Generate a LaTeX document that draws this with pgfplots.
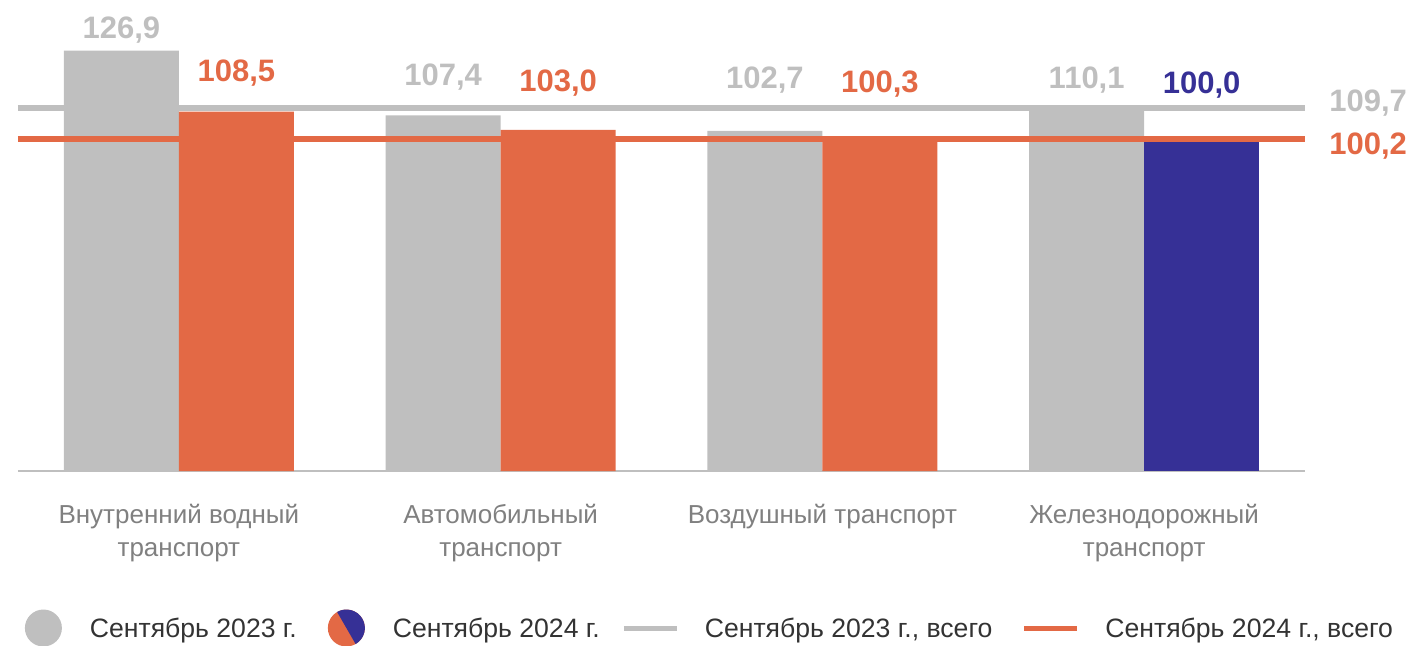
\documentclass[border=0pt]{standalone}
\usepackage{fontspec}
\setmainfont{Liberation Sans}
\usepackage{pgfplots}
\pgfplotsset{compat=1.18}
\definecolor{cgray}{HTML}{BFBFBF}
\definecolor{corange}{HTML}{E36945}
\definecolor{cblue}{HTML}{363096}
\definecolor{ctick}{HTML}{808080}
\definecolor{ctext}{HTML}{333333}
\begin{document}
\begin{tikzpicture}
\path[use as bounding box] (0,0) rectangle (705.5pt,322.5pt);
\begin{axis}[
  at={(9pt,87pt)}, anchor=south west,
  scale only axis, width=643.5pt, height=225.2pt,
  xmin=-0.5, xmax=3.5, ymin=0, ymax=136,
  clip=false,
  axis y line=none,
  axis x line*=bottom,
  x axis line style={draw=cgray, line width=1.25pt, -},
  xtick={0,1,2,3},
  xticklabels={{Внутренний водный\\транспорт},{Автомобильный\\транспорт},{Воздушный транспорт},{Железнодорожный\\транспорт}},
  major tick length=0pt,
  xticklabel style={font=\fontsize{13}{16.5}\selectfont, text=ctick, align=center, anchor=north, inner sep=0pt, yshift=-16.5pt},
  ytick=\empty,
  legend columns=4,
  legend style={at={(axis description cs:0.00505,-0.3486)}, anchor=west, draw=none, fill=none, inner sep=0pt,
    font=\fontsize{13.3}{16}\selectfont, text=ctext,
    nodes={inner sep=0pt, anchor=base west},
    /tikz/every odd column/.append style={column sep=14pt},
    /tikz/column 2/.style={column sep=15.5pt},
    /tikz/column 4/.style={column sep=12pt},
    /tikz/column 6/.style={column sep=16pt}},
]
\addplot[ybar, bar width=57.5pt, bar shift=-28.75pt, fill=cgray, draw=none, forget plot]
  coordinates {(0,126.9) (1,107.4) (2,102.7) (3,110.1)};
\addplot[ybar, bar width=57.5pt, bar shift=28.75pt, fill=corange, draw=none, forget plot]
  coordinates {(0,108.5) (1,103.0) (2,100.3)};
\addplot[ybar, bar width=57.5pt, bar shift=28.75pt, fill=cblue, draw=none, forget plot]
  coordinates {(3,100.0)};
\addplot[sharp plot, no marks, cgray, line width=3pt, forget plot]
  coordinates {(-0.5,109.7) (3.5,109.7)};
\addplot[sharp plot, no marks, corange, line width=3pt, forget plot]
  coordinates {(-0.5,100.2) (3.5,100.2)};

\addlegendimage{legend image code/.code={
  \path[draw=none, fill=none] (0pt,-4.55pt) rectangle (18.5pt,13.95pt);
  \fill[cgray, draw=none, overlay] (9.25pt,4.7pt) circle (9.25pt);}}
\addlegendentry{Сентябрь 2023 г.}
\addlegendimage{legend image code/.code={
  \path[draw=none, fill=none] (0pt,-4.55pt) rectangle (18.5pt,13.95pt);
  \fill[corange, draw=none, overlay] (9.25pt,4.7pt) circle (9.25pt);
  \fill[cblue, draw=none, overlay] (9.25pt,4.7pt) ++(120:9.25pt) arc[start angle=120, end angle=-60, radius=9.25pt] -- cycle;}}
\addlegendentry{Сентябрь 2024 г.}
\addlegendimage{legend image code/.code={
  \path[draw=none, fill=none] (0pt,-4.55pt) rectangle (26.5pt,13.95pt);
  \draw[cgray, line width=2.5pt, overlay] (0pt,4.7pt) -- (26.5pt,4.7pt);}}
\addlegendentry{Сентябрь 2023 г., всего}
\addlegendimage{legend image code/.code={
  \path[draw=none, fill=none] (0pt,-4.55pt) rectangle (26.5pt,13.95pt);
  \draw[corange, line width=2.5pt, overlay] (0pt,4.7pt) -- (26.5pt,4.7pt);}}
\addlegendentry{Сентябрь 2024 г., всего}

\tikzset{lbl/.style={font=\bfseries\fontsize{15.5}{18}\selectfont, inner sep=0pt}}
\node[lbl, text=cgray] at (axis cs:-0.1786,133.0) {126,9};
\node[lbl, text=corange] at (axis cs:0.1786,120.3) {108,5};
\node[lbl, text=cgray] at (axis cs:0.8214,119.0) {107,4};
\node[lbl, text=corange] at (axis cs:1.1786,117.0) {103,0};
\node[lbl, text=cgray] at (axis cs:1.8214,117.9) {102,7};
\node[lbl, text=corange] at (axis cs:2.1786,116.7) {100,3};
\node[lbl, text=cgray] at (axis cs:2.8214,118.0) {110,1};
\node[lbl, text=cblue] at (axis cs:3.1786,116.5) {100,0};
\node[lbl, text=cgray, anchor=west] at (axis cs:3.5745,111.1) {109,7};
\node[lbl, text=corange, anchor=west] at (axis cs:3.5745,98.1) {100,2};
\end{axis}
\end{tikzpicture}
\end{document}
